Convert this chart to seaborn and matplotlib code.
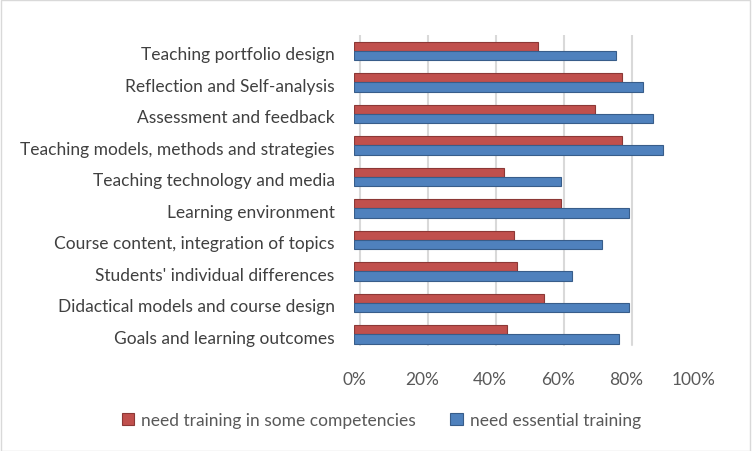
import matplotlib
matplotlib.use("Agg")
import matplotlib.pyplot as plt
import matplotlib.transforms as mtransforms
import seaborn as sns
import pandas as pd
from matplotlib.ticker import PercentFormatter

categories = [
    "Teaching portfolio design",
    "Reflection and Self-analysis",
    "Assessment and feedback",
    "Teaching models, methods and strategies",
    "Teaching technology and media",
    "Learning environment",
    "Course content, integration of topics",
    "Students' individual differences",
    "Didactical models and course design",
    "Goals and learning outcomes",
]
some_training = [54, 79, 71, 79, 44, 61, 47, 48, 56, 45]
essential_training = [77, 85, 88, 91, 61, 81, 73, 64, 81, 78]
series_names = ["need training in some competencies", "need essential training"]

df = pd.concat([
    pd.DataFrame({"cat": categories, "val": some_training, "series": series_names[0]}),
    pd.DataFrame({"cat": categories, "val": essential_training, "series": series_names[1]}),
])

sns.set_style("white")
plt.rcParams["font.family"] = ["Lato", "DejaVu Sans"]

fig = plt.figure(figsize=(7.52, 4.52), dpi=100)
fig.patch.set_facecolor("white")
ax = fig.add_axes([0.4707, 0.2229, 0.452, 0.697])

palette = {series_names[0]: "#C0504D", series_names[1]: "#4F81BD"}
edges = {"#c0504d": "#8C3836", "#4f81bd": "#385D8A"}
sns.barplot(data=df, x="val", y="cat", hue="series", orient="h",
            palette=palette, saturation=1, width=0.58, gap=0, ax=ax, zorder=3)

for p in ax.patches:
    fc = matplotlib.colors.to_hex(p.get_facecolor())
    p.set_edgecolor(edges.get(fc, fc))
    p.set_linewidth(0.8)

ax.set_xlim(0, 100)
ax.set_xticks(range(0, 101, 20))
ax.xaxis.set_major_formatter(PercentFormatter(decimals=0))
ax.set_axisbelow(True)
ax.grid(axis="x", color="#D9D9D9", linewidth=1.5)
# back-wall look: shift the gridlines a few pixels right and up
shift = mtransforms.ScaledTranslation(6 / 100, 5 / 100, fig.dpi_scale_trans)
for gl in ax.get_xgridlines():
    gl.set_transform(gl.get_transform() + shift)
    gl.set_zorder(0)
for s in ax.spines.values():
    s.set_visible(False)
ax.set_xlabel("")
ax.set_ylabel("")
ax.tick_params(axis="y", length=0, pad=14, labelsize=12.5, labelcolor="#404040")
ax.tick_params(axis="x", length=0, pad=15, labelsize=12.5, labelcolor="#595959")
down = mtransforms.ScaledTranslation(0, -2 / 100, fig.dpi_scale_trans)
for lbl in ax.get_yticklabels():
    lbl.set_transform(lbl.get_transform() + down)

handles, labels = ax.get_legend_handles_labels()
ax.legend_.remove()
fig.legend(handles, labels, loc="center", bbox_to_anchor=(0.507, 0.068), ncol=2,
           frameon=False, fontsize=12.5, labelcolor="#595959",
           handlelength=0.7, handleheight=0.7, handletextpad=0.4, columnspacing=2.0)

fig.add_artist(plt.Rectangle((0.001, 0.001), 0.997, 0.997, transform=fig.transFigure,
                             fill=False, edgecolor="#D9D9D9", linewidth=1))

fig.savefig("out.png", dpi=100, facecolor="white")
